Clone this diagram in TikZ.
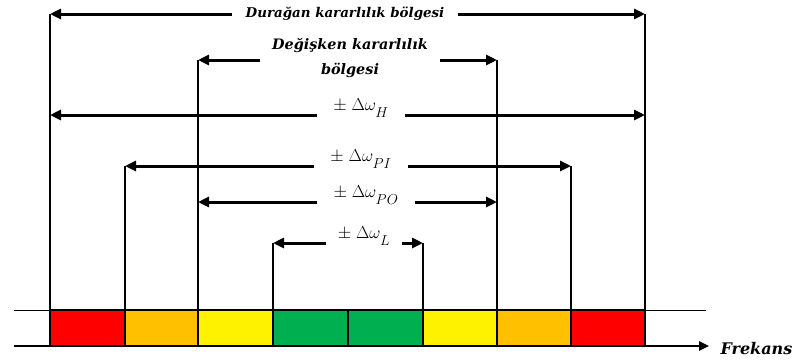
\documentclass[tikz,border=0pt]{standalone}
\usepackage{fontspec}
\setmainfont{DejaVu Serif}
\usetikzlibrary{arrows.meta}
\definecolor{ora}{RGB}{255,192,0}
\definecolor{grn}{RGB}{0,176,80}
\newcommand{\dw}[1]{$\pm\;\Delta\omega_{\raisebox{-4pt}{$\scriptstyle #1$}}$}
\begin{document}
\begin{tikzpicture}[x=1pt,y=-1pt,
  arr/.style={line width=3pt,-{Triangle[length=11pt,width=10pt]}},
  vline/.style={line width=1.6pt},
  txt/.style={font=\fontsize{13.4}{25}\selectfont\bfseries\itshape,inner xsep=14pt,inner ysep=1pt,align=center},
  mth/.style={font=\fontsize{19}{22}\selectfont,inner xsep=16pt,inner ysep=0pt}]
\useasboundingbox (0,0) rectangle (799,362);
% band cells
\fill[red]    (50,310) rectangle (125,346);
\fill[ora]    (125,310) rectangle (198,346);
\fill[yellow] (198,310) rectangle (273,346);
\fill[grn]    (273,310) rectangle (423,346);
\fill[yellow] (423,310) rectangle (497,346);
\fill[ora]    (497,310) rectangle (571,346);
\fill[red]    (571,310) rectangle (645,346);
% thin top line and cell borders
\coordinate (tl) at (14,310);
\coordinate (tr) at (706,310);
\draw[line width=1pt] (tl) -- (tr);
\draw[line width=2.2pt] (50,310) -- (645,310);
\draw[vline] (348,310) -- (348,346);
% axis
\coordinate (ax0) at (14,346);
\coordinate (ax1) at (709,346);
\draw[line width=2.4pt,-{Triangle[length=10pt,width=9pt]}] (ax0) -- (ax1);
\node[font=\fontsize{16}{18}\selectfont\bfseries\itshape,anchor=west] (frek) at (717,349) {Frekans};
% end coordinates
\coordinate (A1) at (50,14);   \coordinate (A2) at (645,14);
\coordinate (B1) at (198,60);  \coordinate (B2) at (497,60);
\coordinate (C1) at (50,115);  \coordinate (C2) at (645,115);
\coordinate (D1) at (125,166); \coordinate (D2) at (571,166);
\coordinate (E1) at (198,202); \coordinate (E2) at (497,202);
\coordinate (F1) at (273,243); \coordinate (F2) at (423,243);
% vertical lines
\foreach \p/\q in {A1/50,A2/645,B1/198,B2/497,D1/125,D2/571,F1/273,F2/423}
  \draw[vline] (\p) -- (\q,346);
% labels
\node[txt] (ld) at (345,14) {Durağan kararlılık bölgesi};
\node[txt,font=\fontsize{14.4}{25}\selectfont\bfseries\itshape,inner xsep=12pt] (lv) at (350,58) {Değişken kararlılık\\bölgesi};
\node[mth] (lh) at (361,108) {\dw{H}};
\node[mth] (lpi) at (361,159) {\dw{PI}};
\node[mth] (lpo) at (366,195) {\dw{PO}};
\node[mth,inner xsep=12pt] (ll) at (364,236) {\dw{L}};
% arrows
\draw[arr] (ld.west |- A1) -- (A1);
\draw[arr] (ld.east |- A2) -- (A2);
\draw[arr] (lv.west |- B1) -- (B1);
\draw[arr] (lv.east |- B2) -- (B2);
\draw[arr] (lh.west |- C1) -- (C1);
\draw[arr] (lh.east |- C2) -- (C2);
\draw[arr] (lpi.west |- D1) -- (D1);
\draw[arr] (lpi.east |- D2) -- (D2);
\draw[arr] (lpo.west |- E1) -- (E1);
\draw[arr] (lpo.east |- E2) -- (E2);
\draw[arr] (ll.west |- F1) -- (F1);
\draw[arr] (ll.east |- F2) -- (F2);
\end{tikzpicture}
\end{document}
